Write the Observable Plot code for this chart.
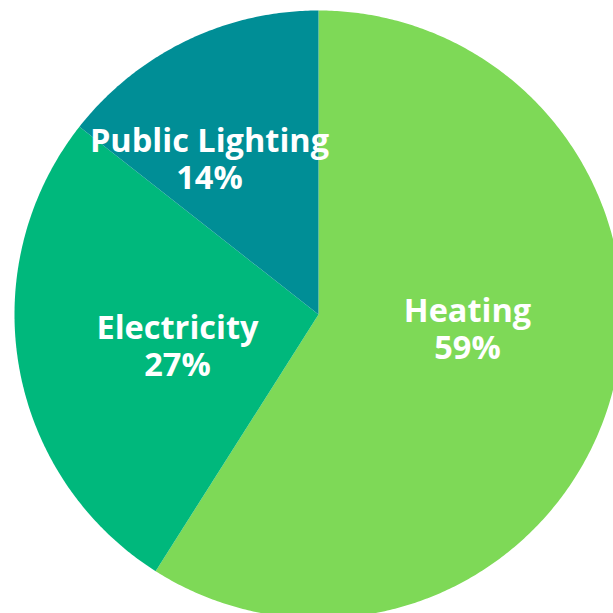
<!DOCTYPE html>
<html>
<head>
<meta charset="utf-8">
<script src="https://cdn.jsdelivr.net/npm/d3@7"></script>
<script src="https://cdn.jsdelivr.net/npm/@observablehq/plot@0.6"></script>
<style>
  html, body { margin: 0; padding: 0; background: #ffffff; }
  #chart svg { display: block; }
</style>
</head>
<body>
<div id="chart"></div>
<script>
// Data
const categories = ["Heating", "Electricity", "Public Lighting"];
const shares = [59, 26.6, 14.4];          // slice sizes
const shareLabels = ["59%", "27%", "14%"]; // percentages as printed
const colors = ["#7ED957", "#00B87C", "#008E96"];

const W = 613, H = 613;
const R = 304;            // pie radius in px
const cx = 318, cy = 314; // pie centre in px

const table = categories.map((c, i) => ({category: c, value: shares[i], label: shareLabels[i]}));

// angles: start at 12 o'clock, clockwise, in data order
const arcs = d3.pie().sort(null).value(d => d.value)(table);

// slice outlines in unit-radius data space (y up)
const slicePts = [];
for (const a of arcs) {
  const cat = a.data.category;
  slicePts.push({category: cat, x: 0, y: 0});
  const n = Math.max(2, Math.ceil((a.endAngle - a.startAngle) / (Math.PI / 360)));
  for (let k = 0; k <= n; k++) {
    const t = a.startAngle + (a.endAngle - a.startAngle) * k / n;
    slicePts.push({category: cat, x: Math.sin(t), y: Math.cos(t)});
  }
  slicePts.push({category: cat, x: 0, y: 0});
}

// label anchors: centroid at half radius, with a small nudge per slice
const nudge = {"Heating": [0.01, 0.092], "Electricity": [0.029, -0.019], "Public Lighting": [-0.140, 0.062]};
const labels = arcs.map(a => {
  const m = (a.startAngle + a.endAngle) / 2;
  const c = a.data.category;
  return {
    x: 0.5 * Math.sin(m) + nudge[c][0],
    y: 0.5 * Math.cos(m) + nudge[c][1],
    text: `${c}\n${a.data.label}`
  };
});

const chart = Plot.plot({
  width: W,
  height: H,
  margin: 0,
  x: {domain: [-cx / R, (W - cx) / R], axis: null},
  y: {domain: [-(H - cy) / R, cy / R], axis: null},
  color: {domain: categories, range: colors},
  style: {background: "#ffffff", overflow: "hidden"},
  marks: [
    Plot.line(slicePts, {x: "x", y: "y", z: "category", fill: "category", stroke: "none", curve: "linear"}),
    Plot.text(labels, {
      x: "x", y: "y", text: "text",
      fill: "white",
      fontFamily: "Open Sans",
      fontWeight: 700,
      fontSize: 32.5,
      lineHeight: 1.14,
      textAnchor: "middle",
      lineAnchor: "middle"
    })
  ]
});
document.getElementById("chart").appendChild(chart);
</script>
</body>
</html>
